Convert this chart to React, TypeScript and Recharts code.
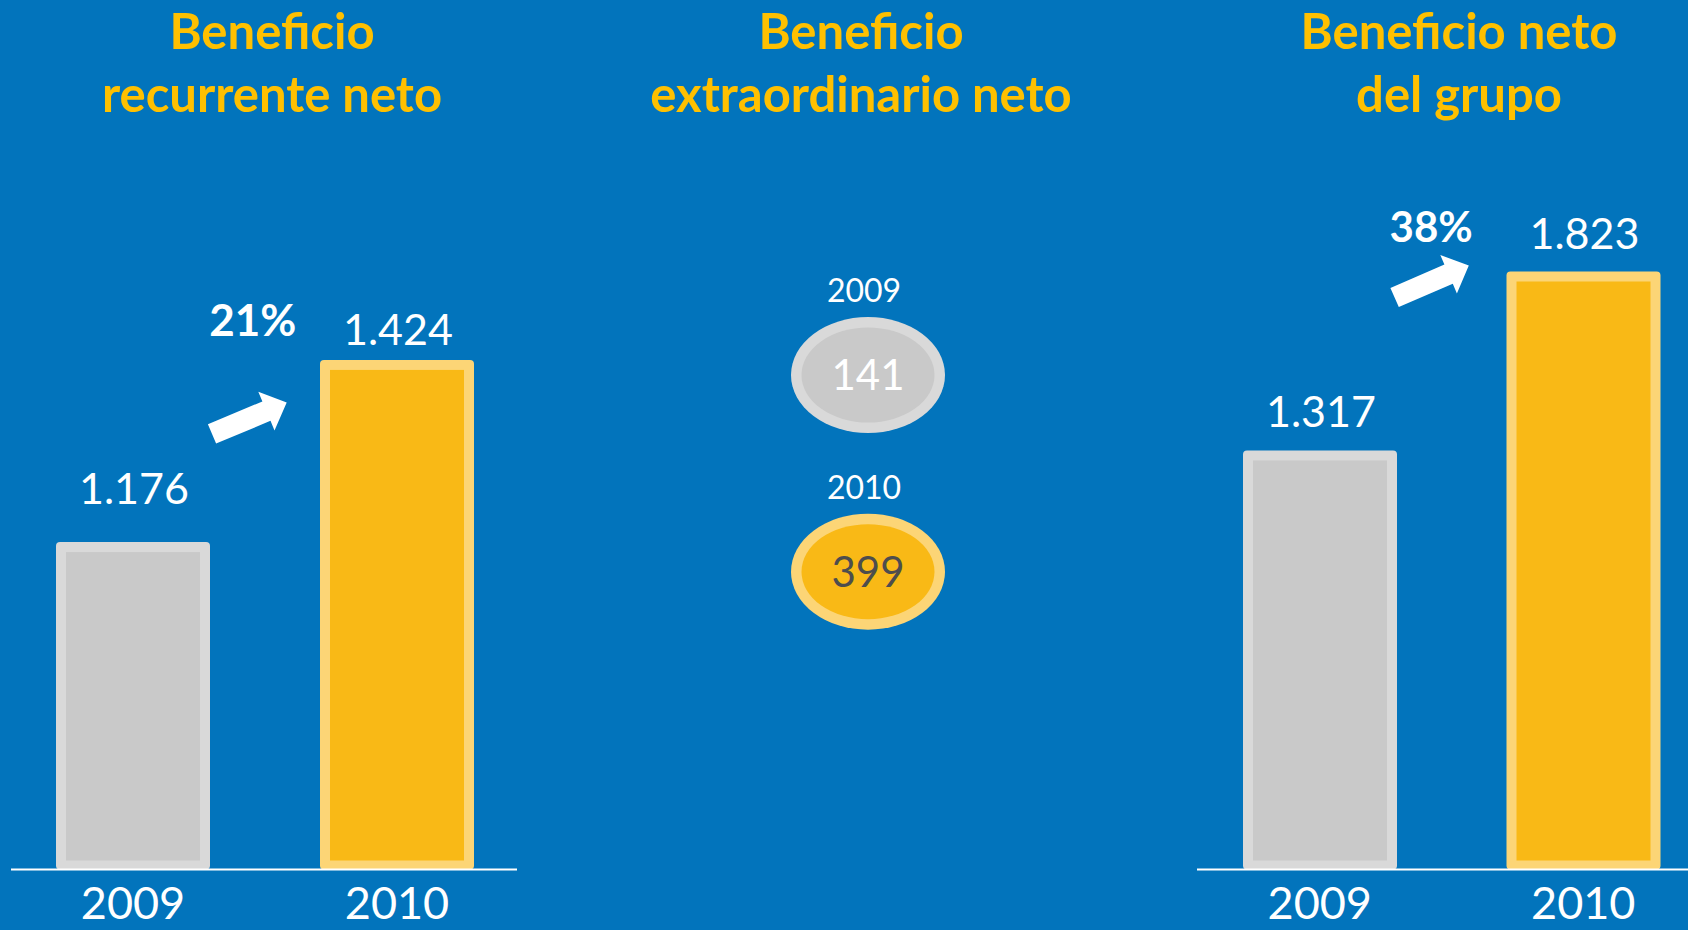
import React from 'react';
import { BarChart, Bar, XAxis, YAxis } from 'recharts';

// ---------- data ----------
const years = ['2009', '2010'];
const recurrenteNeto = [1176, 1424];
const extraordinarioNeto = [141, 399];
const grupoNeto = [1317, 1823];
const growthRecurrente = '21%';
const growthGrupo = '38%';
const titleRecurrente = ['Beneficio', 'recurrente neto'];
const titleExtra = ['Beneficio', 'extraordinario neto'];
const titleGrupo = ['Beneficio neto', 'del grupo'];

const recurrenteData = years.map((year, i) => ({ year, value: recurrenteNeto[i] }));
const extraData = years.map((year, i) => ({ year, value: extraordinarioNeto[i] }));
const grupoData = years.map((year, i) => ({ year, value: grupoNeto[i] }));

// ---------- style ----------
const BG = '#0274BC';
const GOLD = '#FFC000';
const FILL = ['#C9C9C9', '#F9B916'];
const BORDER = ['#D9D9D9', '#FCD576'];
const EX_TEXT = ['#FFFFFF', '#4D4D4D'];
const FONT = 'Lato, "Open Sans", sans-serif';
const W = 1688;
const H = 930;
const PLOT_TOP = 100;
const PLOT_BOTTOM = 869.5;

const fmt = (v: number) =>
  v >= 1000 ? `${Math.floor(v / 1000)}.${String(v % 1000).padStart(3, '0')}` : String(v);

function arrowPoints(tx: number, ty: number, px: number, py: number) {
  const dx = px - tx;
  const dy = py - ty;
  const L = Math.sqrt(dx * dx + dy * dy);
  const ux = dx / L;
  const uy = dy / L;
  const nx = -uy;
  const ny = ux;
  const hw = 10.5;
  const hh = 21;
  const hl = 22;
  const hx = px - ux * hl;
  const hy = py - uy * hl;
  const pts = [
    [tx + nx * hw, ty + ny * hw],
    [hx + nx * hw, hy + ny * hw],
    [hx + nx * hh, hy + ny * hh],
    [px, py],
    [hx - nx * hh, hy - ny * hh],
    [hx - nx * hw, hy - ny * hw],
    [tx - nx * hw, ty - ny * hw],
  ];
  return pts.map((p) => `${p[0].toFixed(1)},${p[1].toFixed(1)}`).join(' ');
}

type PanelCfg = {
  labelGap: number[];
  growth: string;
  pct: [number, number];
  pctSize: number;
  tail: [number, number];
  tip: [number, number];
};

const makeBarShape = (cfg: PanelCfg) => (props: any) => {
  const { x, y, width, height, index, payload } = props;
  const b = 10;
  const bb = 9;
  const cx = x + width / 2;
  return (
    <g>
      <rect x={x} y={y} width={width} height={height} rx={4} ry={4} fill={BORDER[index]} />
      <rect
        x={x + b}
        y={y + b}
        width={Math.max(0, width - 2 * b)}
        height={Math.max(0, height - b - bb)}
        fill={FILL[index]}
      />
      <text
        x={cx + 1}
        y={y - cfg.labelGap[index]}
        textAnchor="middle"
        fontFamily={FONT}
        fontSize={43}
        fill="#FFFFFF"
      >
        {fmt(payload.value)}
      </text>
      {index === 1 && (
        <g>
          <text
            x={x + cfg.pct[0]}
            y={y + cfg.pct[1]}
            textAnchor="middle"
            fontFamily={FONT}
            fontWeight={700}
            fontSize={cfg.pctSize}
            fill="#FFFFFF"
          >
            {cfg.growth}
          </text>
          <polygon
            points={arrowPoints(x + cfg.tail[0], y + cfg.tail[1], x + cfg.tip[0], y + cfg.tip[1])}
            fill="#FFFFFF"
          />
        </g>
      )}
    </g>
  );
};

const YearTick = (props: any) => {
  const { x, payload } = props;
  return (
    <text x={x} y={PLOT_BOTTOM + 49.5} textAnchor="middle" fontFamily={FONT} fontSize={45} fill="#FFFFFF">
      {payload.value}
    </text>
  );
};

const leftCfg: PanelCfg = {
  labelGap: [38, 14.5],
  growth: growthRecurrente,
  pct: [-67.3, -24],
  pctSize: 44,
  tail: [-108, 74],
  tip: [-33.3, 42.7],
};

const rightCfg: PanelCfg = {
  labelGap: [23, 22.6],
  growth: growthGrupo,
  pct: [-75.4, -29.6],
  pctSize: 42,
  tail: [-111.9, 26],
  tip: [-37.7, -6.1],
};

const leftShape = makeBarShape(leftCfg);
const rightShape = makeBarShape(rightCfg);

// center panel (ellipses)
const EX_LEFT = 698;
const EX_W = 340;
const EllipseShape = (props: any) => {
  const { y, height, index, payload } = props;
  const cx = EX_W / 2;
  const cy = y + height / 2;
  return (
    <g>
      <text x={cx - 4} y={cy - 73} textAnchor="middle" fontFamily={FONT} fontSize={32} fill="#FFFFFF">
        {payload.year}
      </text>
      <ellipse cx={cx} cy={cy} rx={77} ry={58} fill={BORDER[index]} />
      <ellipse cx={cx} cy={cy} rx={66.5} ry={47.5} fill={FILL[index]} />
      <text x={cx} y={cy + 15.4} textAnchor="middle" fontFamily={FONT} fontSize={42} fill={EX_TEXT[index]}>
        {fmt(payload.value)}
      </text>
    </g>
  );
};

const Title = ({ lines, cx }: { lines: string[]; cx: number }) => (
  <g>
    {lines.map((l, i) => (
      <text
        key={i}
        x={cx}
        y={49 + i * 63.3}
        textAnchor="middle"
        fontFamily={FONT}
        fontWeight={700}
        fontSize={49}
        fill={GOLD}
      >
        {l}
      </text>
    ))}
  </g>
);

export default function App() {
  return (
    <div
      style={{
        position: 'absolute',
        left: 0,
        top: 0,
        width: W,
        height: H,
        overflow: 'hidden',
        background: BG,
      }}
    >
      <style>{`body{margin:0;overflow:hidden}`}</style>
      <svg width={W} height={H} style={{ position: 'absolute', left: 0, top: 0 }}>
        <Title lines={titleRecurrente} cx={272} />
        <Title lines={titleExtra} cx={861} />
        <Title lines={titleGrupo} cx={1459} />
      </svg>

      {/* left panel */}
      <div style={{ position: 'absolute', left: 0, top: 0 }}>
        <BarChart
          width={540}
          height={H}
          data={recurrenteData}
          margin={{ top: PLOT_TOP, right: 23, bottom: 0, left: 11 }}
        >
          <XAxis
            dataKey="year"
            height={H - PLOT_BOTTOM}
            padding={{ left: -10, right: -12 }}
            axisLine={{ stroke: '#FFFFFF', strokeWidth: 2 }}
            tickLine={false}
            tick={<YearTick />}
            interval={0}
          />
          <YAxis hide domain={[730, 1778]} allowDataOverflow />
          <Bar dataKey="value" barSize={154} shape={leftShape} isAnimationActive={false} />
        </BarChart>
      </div>

      {/* center panel */}
      <div style={{ position: 'absolute', left: EX_LEFT, top: 0 }}>
        <BarChart
          width={EX_W}
          height={H}
          data={extraData}
          layout="vertical"
          margin={{ top: 277, right: 0, bottom: 259.6, left: 0 }}
        >
          <XAxis type="number" hide domain={[0, 400]} />
          <YAxis type="category" dataKey="year" hide />
          <Bar dataKey="value" barSize={116} shape={EllipseShape} isAnimationActive={false} />
        </BarChart>
      </div>

      {/* right panel */}
      <div style={{ position: 'absolute', left: 1180, top: 0 }}>
        <BarChart
          width={540}
          height={H}
          data={grupoData}
          margin={{ top: PLOT_TOP, right: 5, bottom: 0, left: 17 }}
        >
          <XAxis
            dataKey="year"
            height={H - PLOT_BOTTOM}
            padding={{ left: -9, right: 0 }}
            axisLine={{ stroke: '#FFFFFF', strokeWidth: 2 }}
            tickLine={false}
            tick={<YearTick />}
            interval={0}
          />
          <YAxis hide domain={[132, 2308]} allowDataOverflow />
          <Bar dataKey="value" barSize={154} shape={rightShape} isAnimationActive={false} />
        </BarChart>
      </div>
    </div>
  );
}
